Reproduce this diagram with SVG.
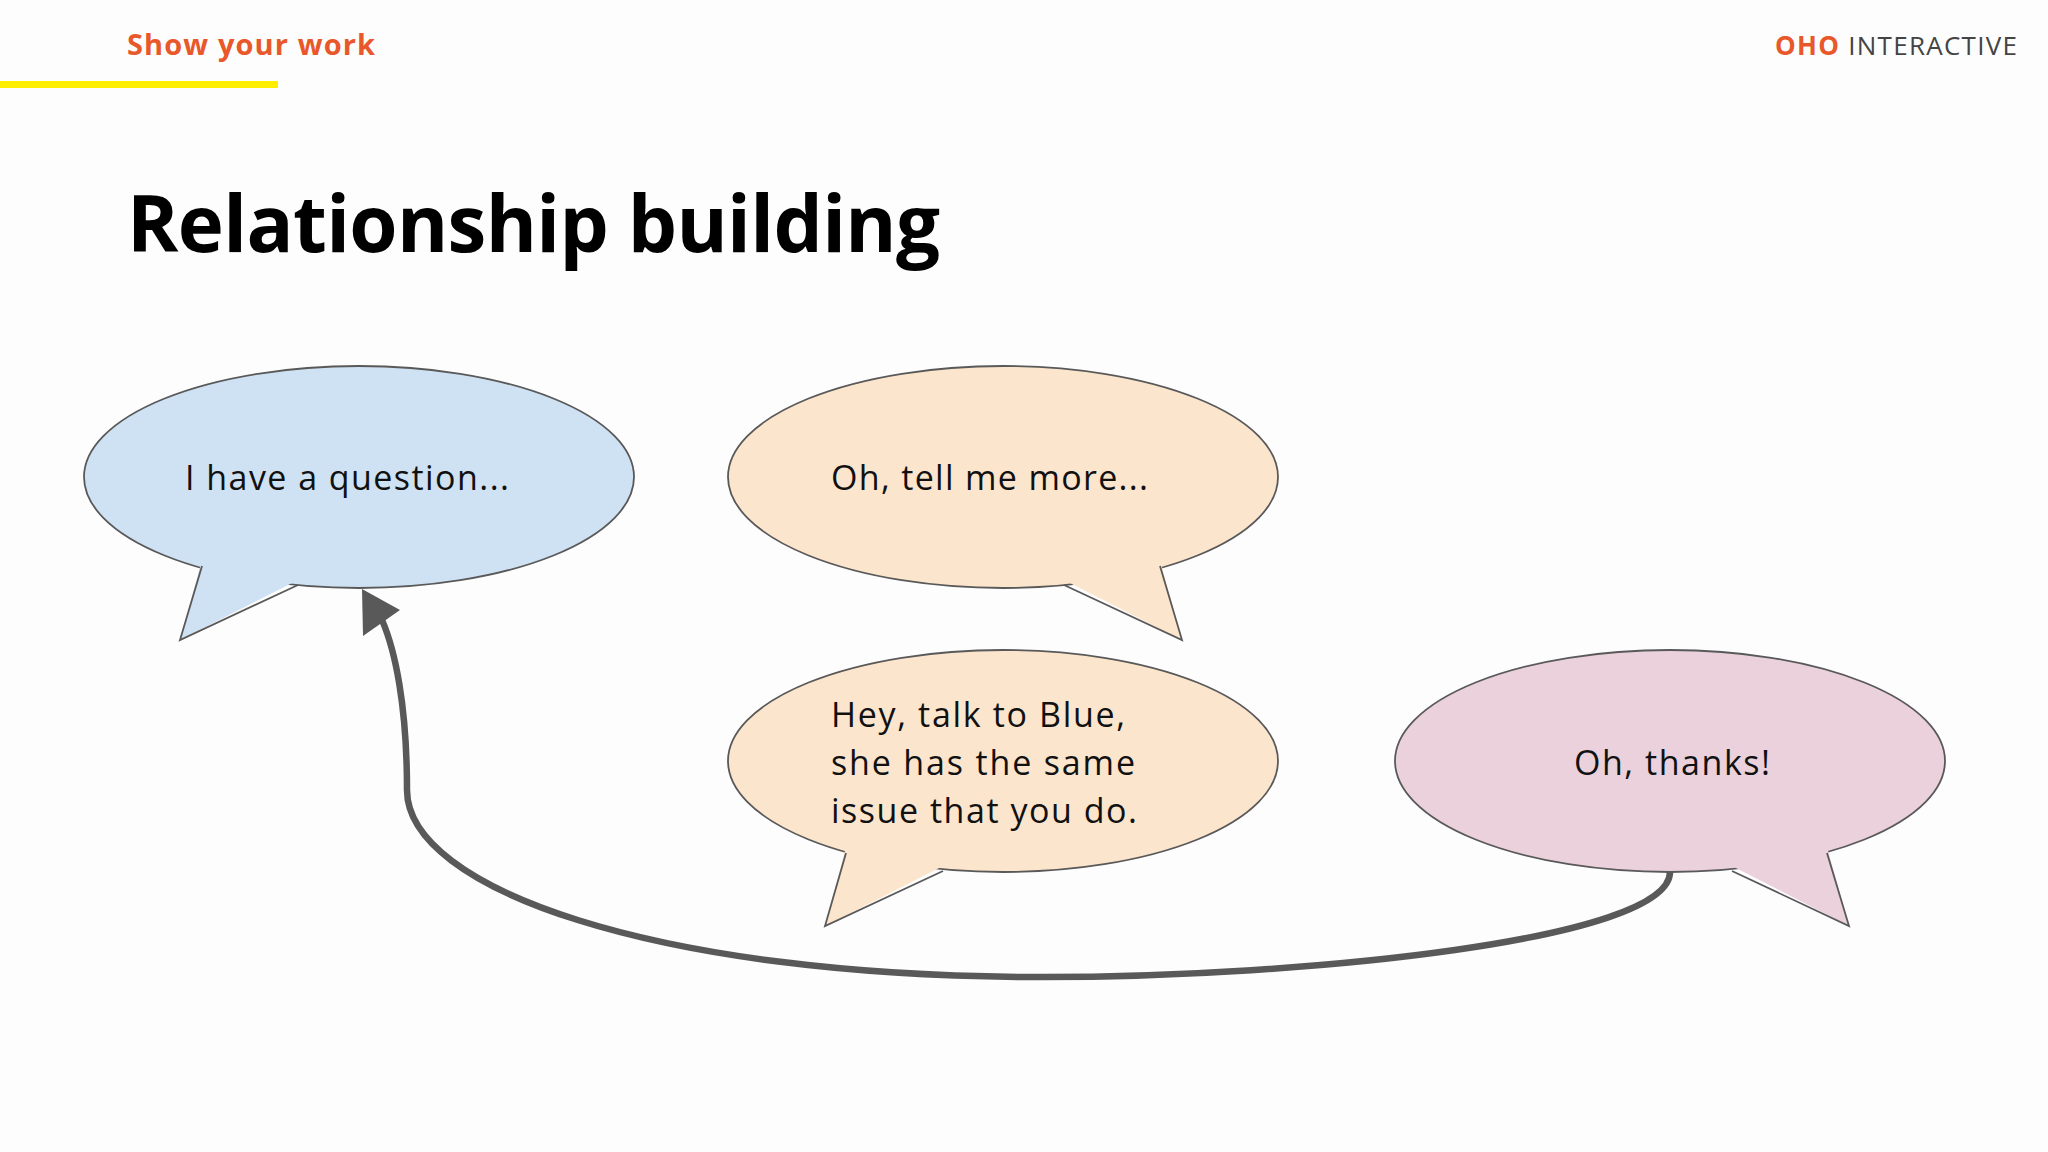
<svg xmlns="http://www.w3.org/2000/svg" width="2048" height="1152" viewBox="0 0 2048 1152">
<style>
.b{stroke:#595959;stroke-width:1.8}
.e{stroke:#595959;stroke-width:1.8;fill:none;stroke-linejoin:miter}
.t{font-family:"Open Sans",Lato,sans-serif;font-size:34px;fill:#111}
</style>
<rect width="2048" height="1152" fill="#fdfdfd"/>
<text x="127" y="55" font-family="Open Sans,sans-serif" font-weight="bold" font-size="29" fill="#e8582a" textLength="248">Show your work</text>
<rect x="0" y="81" width="278" height="7" fill="#ffee00"/>
<text x="2017" y="55" text-anchor="end" font-family="Open Sans,sans-serif" font-size="26" fill="#444" textLength="242"><tspan fill="#e8582a" font-weight="bold">OHO</tspan> INTERACTIVE</text>
<text x="127" y="252" font-family="Open Sans,sans-serif" font-weight="bold" font-size="78" fill="#000" textLength="813">Relationship building</text>
<g id="blue">
<ellipse class="b" fill="#cfe2f3" cx="359" cy="477" rx="275" ry="111"/>
<polygon fill="#cfe2f3" points="202,560 180,640 298,580"/>
<polyline class="e" points="202,566 180,640 298,585"/>
<text class="t" x="185" y="490" textLength="324">I have a question...</text>
</g>
<g id="orange1">
<ellipse class="b" fill="#fce5cd" cx="1003" cy="477" rx="275" ry="111"/>
<polygon fill="#fce5cd" points="1064,580 1182,640 1160,560"/>
<polyline class="e" points="1064,585 1182,640 1160,566"/>
<text class="t" x="831" y="490" textLength="317">Oh, tell me more...</text>
</g>
<g id="orange2">
<ellipse class="b" fill="#fce5cd" cx="1003" cy="761" rx="275" ry="111"/>
<polygon fill="#fce5cd" points="846,847 825,926 943,866"/>
<polyline class="e" points="846,853 825,926 943,871"/>
<text class="t" x="831" y="727" textLength="294">Hey, talk to Blue,</text>
<text class="t" x="831" y="775" textLength="304">she has the same</text>
<text class="t" x="831" y="823" textLength="306">issue that you do.</text>
</g>
<g id="pink">
<ellipse class="b" fill="#ead1dc" cx="1670" cy="761" rx="275" ry="111"/>
<polygon fill="#ead1dc" points="1732,866 1849,926 1827,847"/>
<polyline class="e" points="1732,871 1849,926 1827,853"/>
<text class="t" x="1574" y="775" textLength="196">Oh, thanks!</text>
</g>
<g id="connectors">
<path d="M1670,872 C1670,940 1306,977 1041,977 C653,977 407,888 407,790 C407,705 395,650 382,620" fill="none" stroke="#595959" stroke-width="6.5"/>
<polygon points="362,589 363,636 400,610" fill="#595959"/>
</g>
</svg>
